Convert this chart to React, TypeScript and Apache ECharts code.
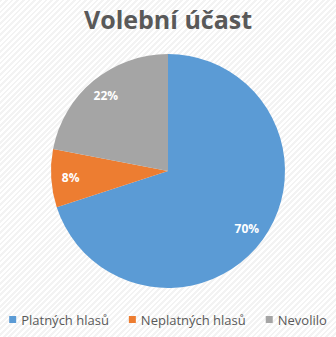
import React, { useEffect, useRef } from "react";
import * as echarts from "echarts";

const categories = ["Platných hlasů", "Neplatných hlasů", "Nevolilo"];
const values = [70, 8, 22];
const colors = ["#5B9BD5", "#ED7D31", "#A5A5A5"];
const titleText = "Volební účast";

export default function App() {
  const ref = useRef<HTMLDivElement>(null);
  useEffect(() => {
    if (!ref.current) return;
    const chart = echarts.init(ref.current, undefined, { renderer: "svg" });
    const data = categories.map((name, i) => ({
      name,
      value: values[i],
      itemStyle: { color: colors[i] },
    }));
    chart.setOption({
      animation: false,
      title: {
        text: titleText,
        left: "center",
        top: 1,
        textStyle: {
          fontFamily: "Open Sans",
          fontSize: 25,
          fontWeight: "bold",
          color: "#595959",
        },
      },
      legend: {
        data: categories,
        bottom: 6,
        left: "center",
        icon: "rect",
        itemWidth: 7,
        itemHeight: 7,
        itemGap: 20,
        textStyle: { fontFamily: "Open Sans", fontSize: 13, color: "#595959" },
      },
      series: [
        {
          type: "pie",
          center: [168, 171],
          radius: 117,
          startAngle: 90,
          clockwise: true,
          label: { show: false },
          labelLine: { show: false },
          data,
          silent: true,
        },
        {
          type: "pie",
          center: [168, 171],
          radius: [72, 117],
          startAngle: 90,
          clockwise: true,
          silent: true,
          itemStyle: { color: "rgba(0,0,0,0)" },
          label: {
            show: true,
            position: "inside",
            formatter: "{d}%",
            color: "#ffffff",
            fontFamily: "Open Sans",
            fontSize: 12,
            fontWeight: "bold",
          },
          labelLine: { show: false },
          data: categories.map((name, i) => ({ name: name, value: values[i] })),
          legendHoverLink: false,
        },
      ],
    });
    return () => chart.dispose();
  }, []);
  return (
    <div
      ref={ref}
      style={{
        position: "fixed",
        left: 0,
        top: 0,
        width: 336,
        height: 337,
        background:
          "repeating-linear-gradient(-45deg, #ffffff 0px, #ffffff 2px, #f3f3f3 2px, #f3f3f3 4px)",
      }}
    />
  );
}
